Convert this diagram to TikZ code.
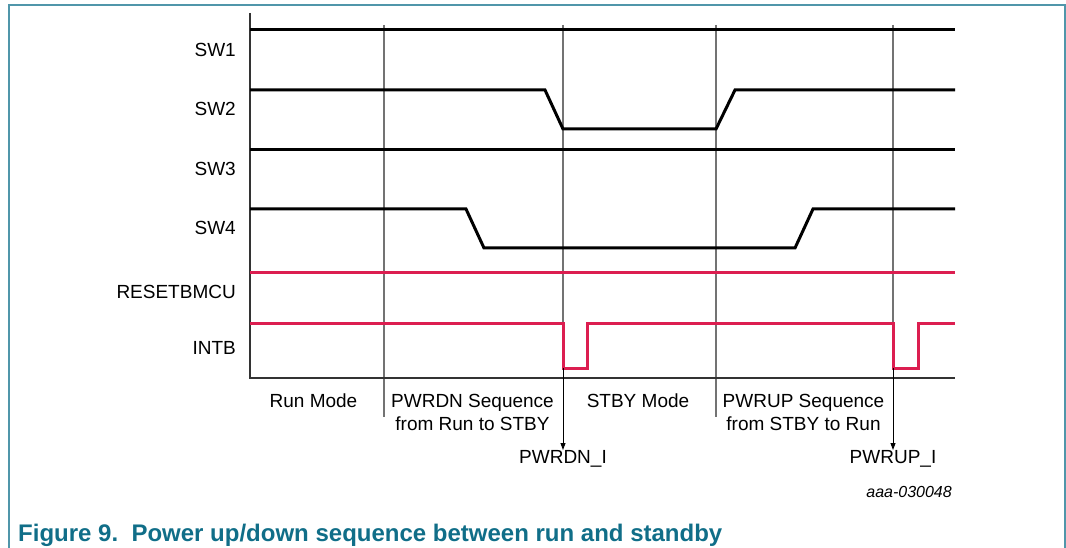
\documentclass[tikz,border=0pt]{standalone}
\usepackage{fontspec}
\setmainfont{Liberation Sans}
\usetikzlibrary{arrows.meta}
\definecolor{nxpteal}{RGB}{16,110,136}
\definecolor{frameteal}{RGB}{80,150,170}
\definecolor{sigred}{RGB}{220,30,80}
\begin{document}
\begin{tikzpicture}[x=1pt,y=-1pt,
  sig/.style={line width=3pt,black,line join=miter},
  redsig/.style={line width=3pt,sigred,line join=miter},
  axis/.style={line width=2pt,black!80},
  divider/.style={line width=1.6pt,black!55},
  lbl/.style={font=\fontsize{19}{23}\selectfont,inner sep=0pt},
  sidelbl/.style={lbl,anchor=east},
  marker/.style={line width=0.9pt,black,-{Triangle[length=7pt,width=5pt]}}]
\useasboundingbox (0,0) rectangle (1066,548);
% frame
\draw[frameteal,line width=1.3pt] (9,548) -- (9,5) -- (1065,5) -- (1065,548);
% dividers
\draw[divider] (384,25) -- (384,417);
\draw[divider] (716,25) -- (716,417);
\draw[divider] (563,25) -- (563,323);
\draw[divider] (893,25) -- (893,323);
% axes
\draw[axis] (250,13) -- (250,378) -- (955,378);
% signals
\draw[sig] (250,30) -- (955,30);
\draw[sig] (250,90) -- (545,90) -- (563,129) -- (716,129) -- (735,90) -- (955,90);
\draw[sig] (250,150) -- (955,150);
\draw[sig] (250,209) -- (466,209) -- (484,248) -- (795,248) -- (813,209) -- (955,209);
\draw[redsig] (250,273) -- (955,273);
\draw[redsig] (250,323) -- (563,323) -- (563,368) -- (587,368) -- (587,323) -- (893,323) -- (893,368) -- (918,368) -- (918,323) -- (955,323);
% side labels
\node[sidelbl] (sw1) at (236,50) {SW1};
\node[sidelbl] (sw2) at (236,109) {SW2};
\node[sidelbl] (sw3) at (236,169) {SW3};
\node[sidelbl] (sw4) at (236,228) {SW4};
\node[sidelbl] (rst) at (236,292) {RESETBMCU};
\node[sidelbl] (intb) at (236,348) {INTB};
% phase labels
\node[lbl] (run) at (313.5,401) {Run Mode};
\node[lbl,align=center] (pwrdn) at (472.5,412) {PWRDN Sequence\\from Run to STBY};
\node[lbl] (stby) at (638,401) {STBY Mode};
\node[lbl,align=center] (pwrup) at (803.5,412) {PWRUP Sequence\\from STBY to Run};
% event markers
\node[lbl,anchor=north] (pwrdnI) at (563,450) {PWRDN\_I};
\node[lbl,anchor=north] (pwrupI) at (893,450) {PWRUP\_I};
\coordinate (dnstart) at (563,368);
\coordinate (upstart) at (893,368);
\draw[marker] (dnstart) -- (pwrdnI.north);
\draw[marker] (upstart) -- (pwrupI.north);
% figure id
\node[font=\fontsize{16}{17}\selectfont\itshape,anchor=east,inner sep=0pt] (fid) at (952,492) {aaa-030048};
% caption
\node[font=\fontsize{24}{26}\selectfont\bfseries,text=nxpteal,anchor=west,inner sep=0pt] (cap) at (18,535) {Figure 9.\ \ Power up/down sequence between run and standby};
\end{tikzpicture}
\end{document}
